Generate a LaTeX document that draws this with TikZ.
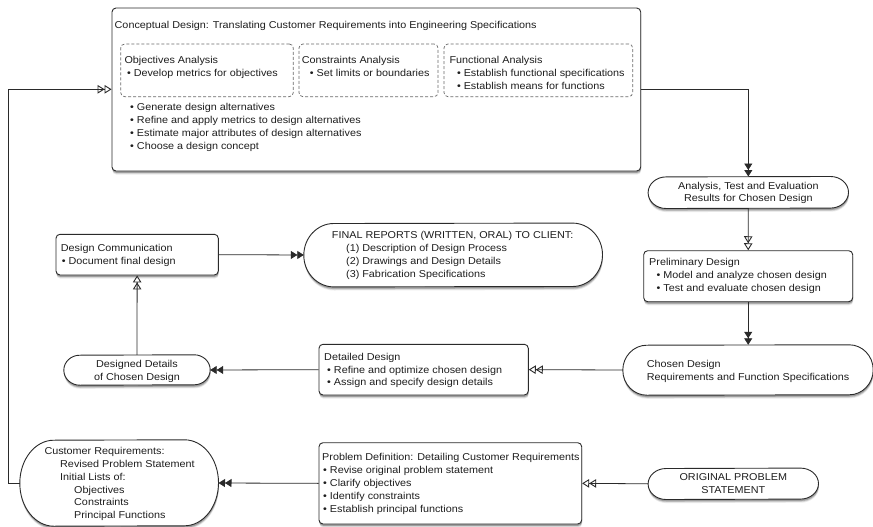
\documentclass[tikz,border=0pt]{standalone}
\usepackage{fontspec}
\setmainfont{Liberation Sans}[FakeStretch=1.08]
\usetikzlibrary{arrows.meta,shadows}

\definecolor{ink}{HTML}{1E1E1E}
\definecolor{edge}{HTML}{2A2A2A}
\definecolor{dash}{HTML}{6A6A6A}

\newcommand\bitem[1]{\hspace*{#1pt}\textbullet\ }

\tikzset{
  softshadow/.style={
      drop shadow={shadow xshift=0.4pt, shadow yshift=-3.6pt, opacity=0.08, fill=black},
      drop shadow={shadow xshift=0.4pt, shadow yshift=-2.7pt, opacity=0.14, fill=black},
      drop shadow={shadow xshift=0.3pt, shadow yshift=-1.8pt, opacity=0.22, fill=black}},
  panel/.style={draw=edge, line width=0.9pt, fill=white, rounded corners=4pt,
      inner sep=0pt, softshadow},
  pill/.style={draw=edge, line width=0.9pt, fill=white, softshadow},
  area/.style={draw=dash, line width=0.7pt, dash pattern=on 3pt off 2pt,
      rounded corners=4pt, inner sep=0pt},
  txt/.style={anchor=base west, inner sep=0pt, align=left, text=ink,
      font=\fontsize{10}{12.8}\selectfont},
  ctxt/.style={txt, anchor=base, align=center},
  fillarrow/.style={draw=edge, line width=0.8pt,
      -{Triangle[length=6.5pt,width=8pt] Triangle[length=6.5pt,width=8pt]}},
  openarrow/.style={draw=edge, line width=0.8pt,
      -{Triangle[open,length=7pt,width=8.5pt,line width=0.9pt]
        Triangle[open,length=7pt,width=8.5pt,line width=0.9pt]}},
}

% pill-shaped terminal: name, centre x, centre y, width, height, end radius
\newcommand\stadium[6]{%
  \node[inner sep=0pt, minimum width=#4pt, minimum height=#5pt] (#1) at (#2,#3) {};
  \path[pill] ([xshift=-#6pt]#1.north east)
      arc[start angle=90, end angle=-90, x radius=#6pt, y radius=#5pt/2]
      -- ([xshift=#6pt]#1.south west)
      arc[start angle=270, end angle=90, x radius=#6pt, y radius=#5pt/2]
      -- cycle;
}

\begin{document}
\begin{tikzpicture}[x=1pt,y=-1pt]
\useasboundingbox (0,0) rectangle (873,527);

% ---------- conceptual design ----------
% (multi-line labels are placed by the baseline of their last line)
\node[panel, minimum width=528.7pt, minimum height=163pt] (concept) at (376.35,89.5) {};
\node[area, minimum width=172.6pt, minimum height=52.7pt] (objbox) at (207,70.35) {};
\node[area, minimum width=139pt, minimum height=52.7pt] (conbox) at (368.5,70.35) {};
\node[area, minimum width=188.7pt, minimum height=52.7pt] (funbox) at (538.35,70.35) {};

\node[txt] (ctitle) at (114.5,29) {Conceptual Design: Translating Customer Requirements into Engineering Specifications};
\node[txt] (objtxt) at (124.3,76.4) {Objectives Analysis\\\bitem{2.5}Develop metrics for objectives};
\node[txt] (contxt) at (301.7,76.4) {Constraints Analysis\\\bitem{8}Set limits or boundaries};
\node[txt] (funtxt) at (449.3,89.2) {Functional Analysis\\\bitem{7.5}Establish functional specifications\\\bitem{7.5}Establish means for functions};
\node[txt] (ctasks) at (130,149.3) {\bitem{0}Generate design alternatives\\\bitem{0}Refine and apply metrics to design alternatives\\\bitem{0}Estimate major attributes of design alternatives\\\bitem{0}Choose a design concept};

% ---------- right column ----------
\stadium{analysis}{748.3}{192.5}{200}{31.6}{18}
\node[ctxt] (antxt) at (748.3,201.9) {Analysis, Test and Evaluation\\Results for Chosen Design};

\node[panel, minimum width=209pt, minimum height=51pt] (prelim) at (748.2,276.2) {};
\node[txt] (pretxt) at (649,291.5) {Preliminary Design\\\bitem{7.5}Model and analyze chosen design\\\bitem{7.5}Test and evaluate chosen design};

\stadium{chosen}{748}{370}{250}{50}{24}
\node[txt] (chtxt) at (646.7,380.4) {Chosen Design\\Requirements and Function Specifications};

% ---------- middle row ----------
\node[panel, minimum width=209.3pt, minimum height=50.7pt] (detailed) at (423.65,369.65) {};
\node[txt] (dettxt) at (324,385.9) {Detailed Design\\\bitem{3}Refine and optimize chosen design\\\bitem{3}Assign and specify design details};

\stadium{designed}{137}{370}{146}{30}{16}
\node[ctxt] (destxt) at (137,380.7) {Designed Details\\of Chosen Design};

\node[panel, minimum width=162.3pt, minimum height=40.7pt] (comm) at (137.15,254.65) {};
\node[txt] (comtxt) at (60.7,264.1) {Design Communication\\\bitem{1}Document final design};

\stadium{final}{453.15}{255}{298.3}{63.4}{30}
\node[txt] (fintxt) at (331.7,277) {FINAL REPORTS (WRITTEN, ORAL) TO CLIENT:\\\hspace*{14.3pt}(1) Description of Design Process\\\hspace*{14.3pt}(2) Drawings and Design Details\\\hspace*{14.3pt}(3) Fabrication Specifications};

% ---------- bottom row ----------
\stadium{original}{733.3}{483.8}{170}{31}{18}
\node[ctxt] (oritxt) at (733.3,493.1) {ORIGINAL PROBLEM\\STATEMENT};

\node[panel, minimum width=262.7pt, minimum height=81.3pt] (problem) at (450.35,483.35) {};
\node[txt] (protxt) at (322,512.1) {Problem Definition: Detailing Customer Requirements\\\bitem{1}Revise original problem statement\\\bitem{1}Clarify objectives\\\bitem{1}Identify constraints\\\bitem{1}Establish principal functions};

\stadium{cust}{119.15}{483}{198.3}{86}{34}
\node[txt] (custxt) at (44.3,518.6) {Customer Requirements:\\\hspace*{15.7pt}Revised Problem Statement\\\hspace*{15.7pt}Initial Lists of:\\\hspace*{29.7pt}Objectives\\\hspace*{29.7pt}Constraints\\\hspace*{29.7pt}Principal Functions};

% ---------- connectors ----------
\coordinate (rowA) at (0,89.3);
\coordinate (loopx) at (8.3,0);
\draw[openarrow] (cust.west) -| (loopx |- rowA) -- (concept.west |- rowA);
\draw[fillarrow] (concept.east |- rowA) -| (analysis.north);
\draw[openarrow] (analysis.south) -- (prelim.north);
\draw[fillarrow] (prelim.south) -- (prelim.south |- chosen.north);
\draw[openarrow] (chosen.west) -- (detailed.east);
\draw[fillarrow] (detailed.west) -- (designed.east);
\draw[openarrow] (designed.north) -- (comm.south);
\draw[fillarrow] (comm.east) -- (final.west);
\draw[openarrow] (original.west) -- (problem.east);
\draw[fillarrow] (problem.west) -- (cust.east);
\end{tikzpicture}
\end{document}
